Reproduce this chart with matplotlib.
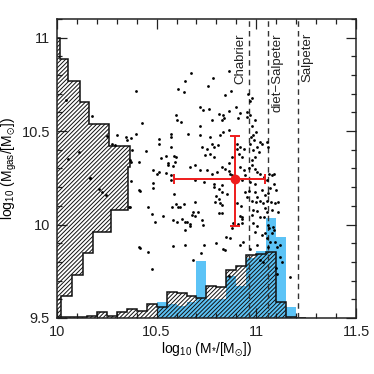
import numpy as np
import matplotlib
matplotlib.use("Agg")
import matplotlib.pyplot as plt
from matplotlib.ticker import MultipleLocator

plt.rcParams['font.family'] = ['Liberation Sans', 'DejaVu Sans']
plt.rcParams['mathtext.default'] = 'regular'
plt.rcParams['hatch.linewidth'] = 0.7

# ---- data ----
# scatter: log10 M* , log10 Mgas
mstar = [10.642, 10.395, 10.609, 10.639, 10.045, 10.177, 10.596, 10.601, 10.622, 10.428,
         10.249, 10.300, 10.345, 10.350, 10.370, 10.396, 10.572, 10.571, 10.274, 10.291,
         10.512, 10.512, 10.571, 10.110, 10.057, 10.445, 10.366, 10.522, 10.545, 10.589,
         10.596, 10.556, 10.592, 10.559, 10.584, 10.483, 10.500, 10.512, 10.545, 10.166,
         10.572, 10.572, 10.483,
         10.672, 10.862, 10.783, 10.758, 10.875, 10.842, 10.957, 10.979, 10.967, 10.716,
         10.733, 10.761, 10.900, 10.917, 10.862, 10.811, 10.832, 10.836, 10.828, 10.778,
         10.953, 10.967, 10.953, 10.907, 10.995, 10.719, 10.656, 10.719, 10.769, 10.819,
         10.833, 10.862, 10.979, 10.999, 10.984, 10.974, 10.987, 11.017, 10.970, 11.004,
         11.029, 10.984, 11.012, 11.054, 11.059, 10.995, 10.979, 10.728, 10.753, 10.778,
         10.786, 10.806, 10.744, 10.769, 10.786, 10.903, 10.903, 10.920, 10.937, 10.912,
         10.928, 10.878, 10.862, 10.669, 10.694, 10.719, 10.753, 10.778, 10.803, 10.828,
         10.845, 10.862, 10.870, 10.878, 10.920, 10.940, 10.945, 10.962, 10.979, 10.995,
         11.004, 11.020, 11.037, 11.062, 11.079, 11.090, 11.054, 11.090, 10.694, 10.736,
         10.786, 10.828, 10.928, 10.970, 10.995,
         10.212, 10.224, 10.246, 10.417, 10.483, 10.363, 10.587, 10.596, 10.609, 10.576,
         10.617, 10.637, 10.458, 10.475, 10.492, 10.530, 10.584, 10.601, 10.626, 10.642,
         10.642, 10.417, 10.458, 10.584, 10.642, 10.475, 10.166, 10.371, 10.413, 10.370,
         10.366, 10.413, 10.413, 10.375,
         10.684, 10.709, 10.676, 10.692, 10.651, 10.726, 10.731, 10.667, 10.826, 10.918,
         10.927, 10.910, 10.877, 10.885, 10.848, 10.868, 10.935, 10.918, 10.798, 10.739,
         10.721, 10.681, 10.865,
         10.977, 10.999, 11.019, 11.035, 11.052, 11.074, 11.094, 11.111, 10.985, 11.002,
         11.044, 11.052, 11.077, 11.108, 10.977, 11.019, 11.040, 10.927, 10.927, 10.994,
         11.027, 11.044, 11.052, 11.077, 11.060, 11.065, 11.085, 11.089, 11.069, 11.094,
         11.119, 11.102, 11.060, 11.002, 10.968, 11.119, 11.127, 11.099, 11.035, 11.019,
         11.169, 11.102, 10.843, 10.985, 11.003,
         10.694, 10.669, 10.794, 10.811, 10.819, 10.828, 10.799, 10.828, 10.853, 10.814,
         10.903, 10.925, 10.834, 10.789, 10.811, 10.945, 10.962, 10.953, 10.995, 11.004,
         11.029, 11.044, 11.069, 11.059, 11.099]
mgas = [10.767, 10.716, 10.726, 10.708, 10.668, 10.580, 10.584, 10.557, 10.548, 10.545,
        10.472, 10.477, 10.468, 10.454, 10.463, 10.486, 10.486, 10.468, 10.433, 10.427,
        10.456, 10.433, 10.415, 10.388, 10.349, 10.394, 10.344, 10.358, 10.367, 10.367,
        10.361, 10.331, 10.335, 10.317, 10.312, 10.290, 10.273, 10.281, 10.278, 10.249,
        10.267, 10.237, 10.222,
        10.812, 10.824, 10.785, 10.744, 10.717, 10.691, 10.700, 10.676, 10.664, 10.628,
        10.611, 10.616, 10.628, 10.598, 10.607, 10.593, 10.584, 10.572, 10.561, 10.562,
        10.602, 10.588, 10.575, 10.572, 10.562, 10.530, 10.486, 10.477, 10.468, 10.477,
        10.495, 10.504, 10.525, 10.498, 10.477, 10.468, 10.450, 10.441, 10.433, 10.415,
        10.433, 10.397, 10.388, 10.441, 10.415, 10.361, 10.347, 10.415, 10.406, 10.433,
        10.415, 10.424, 10.370, 10.376, 10.361, 10.433, 10.406, 10.415, 10.406, 10.379,
        10.361, 10.361, 10.331, 10.308, 10.317, 10.290, 10.290, 10.273, 10.281, 10.308,
        10.299, 10.285, 10.273, 10.263, 10.308, 10.290, 10.263, 10.302, 10.317, 10.299,
        10.281, 10.273, 10.254, 10.273, 10.263, 10.273, 10.237, 10.219, 10.237, 10.228,
        10.219, 10.210, 10.237, 10.228, 10.219,
        10.190, 10.173, 10.160, 10.182, 10.194, 10.093, 10.164, 10.110, 10.093, 10.093,
        10.096, 10.110, 10.093, 10.057, 10.013, 10.048, 10.025, 10.016, 10.030, 10.013,
        9.968, 9.874, 9.852, 9.883, 9.891, 9.760, 10.251, 10.334, 10.334, 10.233,
        10.095, 10.187, 9.878, 10.397,
        10.068, 10.068, 10.050, 10.045, 10.014, 10.023, 9.997, 9.991, 10.059, 10.045,
        10.032, 10.002, 9.979, 10.009, 9.931, 9.926, 9.907, 9.893, 9.902, 9.890,
        9.849, 9.810, 9.724,
        10.126, 10.121, 10.126, 10.116, 10.126, 10.121, 10.116, 10.121, 10.077, 10.071,
        10.086, 10.068, 10.077, 10.068, 10.050, 10.041, 10.038, 10.041, 10.006, 9.961,
        9.943, 9.952, 9.926, 9.952, 9.997, 9.979, 9.987, 9.970, 9.907, 9.907,
        9.890, 9.881, 9.881, 9.890, 9.867, 9.827, 9.801, 9.765, 9.801, 9.810,
        9.720, 9.735, 9.863, 10.009, 9.991,
        10.123, 10.003, 10.119, 10.134, 10.114, 10.102, 10.155, 10.173, 10.164, 10.062,
        10.116, 10.098, 9.868, 10.199, 10.190, 10.173, 10.182, 10.146, 10.173, 10.150,
        10.183, 10.157, 10.194, 10.167, 10.183]

# Gas-mass histogram (left, horizontal): widths in dex, 13 bins 9.5-11.0
mgas_edges = np.linspace(9.5, 11.0, 14)
mgas_hist = [0.020, 0.074, 0.132, 0.182, 0.271, 0.356, 0.359, 0.366,
             0.261, 0.162, 0.115, 0.057, 0.017]

# Stellar-mass histograms (bottom): heights in dex, bins of 0.05 from 10.0
mstar_edges = np.round(np.arange(10.0, 11.2501, 0.05), 3)
mstar_hist = [0.003, 0.003, 0.003, 0.011, 0.032, 0.011, 0.029, 0.048, 0.037, 0.072,
              0.061, 0.141, 0.131, 0.115, 0.109, 0.171, 0.163, 0.259, 0.278, 0.336,
              0.342, 0.352, 0.085, 0.007, 0.0]
mstar_hist_blue = [0, 0, 0, 0, 0, 0, 0, 0, 0, 0,
                   0.085, 0.075, 0.062, 0.085, 0.302, 0.101, 0.101, 0.224, 0.171, 0.320,
                   0.358, 0.534, 0.432, 0.059, 0.0]

# Median with errors
med_x, med_y = 10.895, 10.242
xerr_lo, xerr_hi = 0.31, 0.15
yerr_lo, yerr_hi = 0.25, 0.23

imf_x = [10.965, 11.060, 11.210]
imf_labels = ['Chabrier', 'diet\u2212Salpeter', 'Salpeter']
imf_label_x = [10.920, 11.104, 11.254]

# ---- plot ----
fig = plt.figure(figsize=(3.74, 3.74), dpi=100)
ax = fig.add_axes([0.152, 0.150, 0.800, 0.799])
ax.set_xlim(10.0, 11.5)
ax.set_ylim(9.5, 11.1)

blue = '#5cc3f6'
hatch = '////////'
ax.stairs(9.5 + np.array(mstar_hist_blue), mstar_edges, baseline=9.5, fill=True,
          facecolor=blue, edgecolor='none', linewidth=0, zorder=1)
ax.stairs(9.5 + np.array(mstar_hist), mstar_edges, baseline=9.5, fill=True,
          facecolor='none', edgecolor='#111111', hatch=hatch, linewidth=1.1, zorder=2)
ax.stairs(10.0 + np.array(mgas_hist), mgas_edges, baseline=10.0, orientation='horizontal',
          fill=True, facecolor='none', edgecolor='#111111', hatch=hatch, linewidth=1.1, zorder=2)

ax.scatter(mstar, mgas, s=4.0, c='black', linewidths=0, zorder=3)

for xv, lab, lx in zip(imf_x, imf_labels, imf_label_x):
    ax.axvline(xv, color='#333333', linestyle=(0, (4, 3)), linewidth=1.0, zorder=2)
    ax.text(lx, 11.025, lab, rotation=90, ha='center', va='top', fontsize=9.5,
            color='#222222')

ax.errorbar([med_x], [med_y], xerr=[[xerr_lo], [xerr_hi]], yerr=[[yerr_lo], [yerr_hi]],
            fmt='o', color='#ee1c1c', ms=6, elinewidth=1.4, capsize=3.5, capthick=1.4,
            zorder=5)

ax.xaxis.set_major_locator(MultipleLocator(0.5))
ax.xaxis.set_minor_locator(MultipleLocator(0.1))
ax.yaxis.set_major_locator(MultipleLocator(0.5))
ax.yaxis.set_minor_locator(MultipleLocator(0.1))
ax.xaxis.set_major_formatter(plt.FuncFormatter(lambda v, p: f'{v:g}'))
ax.yaxis.set_major_formatter(plt.FuncFormatter(lambda v, p: f'{v:g}'))
ax.tick_params(which='both', direction='in', top=True, right=True, width=0.9,
               colors='#222222', labelsize=10.5)
ax.tick_params(which='major', length=7)
ax.tick_params(which='minor', length=3.3)
ax.tick_params(axis='x', pad=5)
ax.tick_params(axis='y', pad=5)
for s in ax.spines.values():
    s.set_linewidth(1.1)
    s.set_color('#222222')

ax.set_xlabel(r'log$_{10}$ (M$_{*}$/[M$_{\odot}$])', fontsize=10)
ax.set_ylabel(r'log$_{10}$ (M$_{gas}$/[M$_{\odot}$])', fontsize=10)
ax.xaxis.set_label_coords(0.5, -0.075)
ax.yaxis.set_label_coords(-0.128, 0.5)

fig.savefig('out.png', dpi=100)
